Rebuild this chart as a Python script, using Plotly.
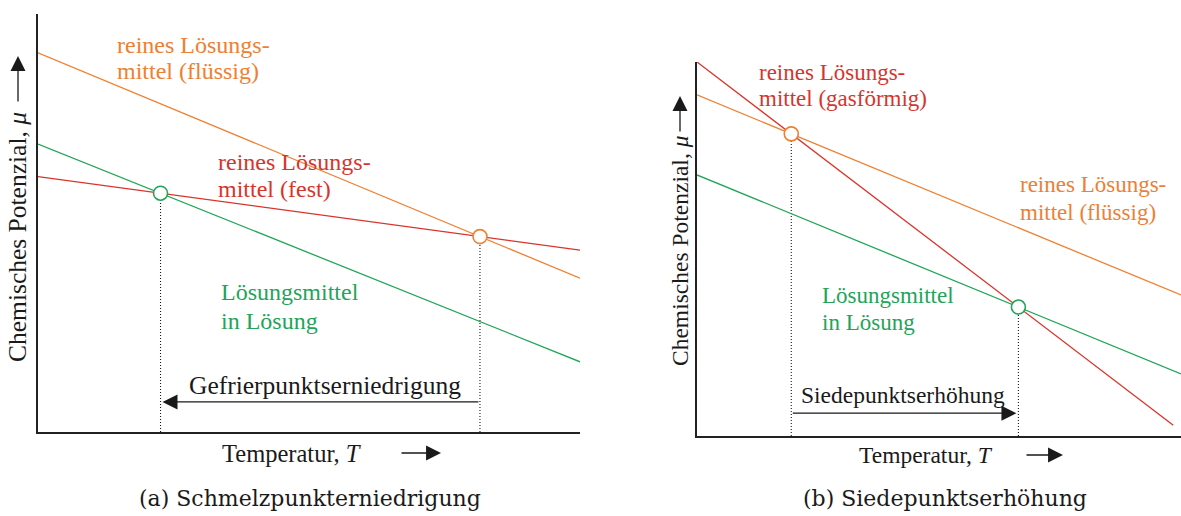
import plotly.graph_objects as go

# ---- Panel (a): freezing point depression -------------------------------
temp_a = [0.0, 10.0]
mu_liquid_a = [9.07, 3.68]      # pure solvent, liquid
mu_solid_a = [6.11, 4.35]       # pure solvent, solid
mu_solution_a = [6.89, 1.68]    # solvent in solution

# ---- Panel (b): boiling point elevation --------------------------------
temp_gas_b = [0.0, 9.84]
mu_gas_b = [10.0, 0.29]         # pure solvent, gaseous
temp_b = [0.0, 10.0]
mu_liquid_b = [9.12, 3.77]      # pure solvent, liquid
mu_solution_b = [6.98, 1.66]    # solvent in solution

# heights (in potential units) of the dimension arrows
arrow_level_a = 0.72
arrow_level_b = 0.61

ORANGE = "#EE8033"
RED = "#D8342C"
GREEN = "#22A459"
INK = "#1a1a1a"
SERIF = "Liberation Serif"
CAPTION_FONT = "DejaVu Serif"

W, H = 1181, 516


def crossing(xa, ya, xb, yb):
    """Intersection of two straight lines given by their end points."""
    ma = (ya[1] - ya[0]) / (xa[1] - xa[0])
    ca = ya[0] - ma * xa[0]
    mb = (yb[1] - yb[0]) / (xb[1] - xb[0])
    cb = yb[0] - mb * xb[0]
    t = (cb - ca) / (ma - mb)
    return t, ma * t + ca


def px(x):
    return x / W


def py(y):
    return 1 - y / H


freeze_sol = crossing(temp_a, mu_solution_a, temp_a, mu_solid_a)
freeze_pure = crossing(temp_a, mu_liquid_a, temp_a, mu_solid_a)
boil_pure = crossing(temp_b, mu_liquid_b, temp_gas_b, mu_gas_b)
boil_sol = crossing(temp_b, mu_solution_b, temp_gas_b, mu_gas_b)

fig = go.Figure()

line_w = 1.3


def add_line(x, y, color, xa, ya):
    fig.add_trace(go.Scatter(x=x, y=y, mode="lines", xaxis=xa, yaxis=ya,
                             line=dict(color=color, width=line_w),
                             hoverinfo="skip", showlegend=False))


def add_drop(pt, xa, ya):
    fig.add_trace(go.Scatter(x=[pt[0], pt[0]], y=[0, pt[1]], mode="lines",
                             xaxis=xa, yaxis=ya,
                             line=dict(color=INK, width=1.1, dash="1px,2px"),
                             hoverinfo="skip", showlegend=False))


def add_marker(pt, color, xa, ya):
    fig.add_trace(go.Scatter(x=[pt[0]], y=[pt[1]], mode="markers",
                             xaxis=xa, yaxis=ya,
                             marker=dict(size=14, color="white",
                                         line=dict(color=color, width=1.6)),
                             hoverinfo="skip", showlegend=False))


# panel (a)
add_drop(freeze_sol, "x", "y")
add_drop(freeze_pure, "x", "y")
add_line(temp_a, mu_liquid_a, ORANGE, "x", "y")
add_line(temp_a, mu_solid_a, RED, "x", "y")
add_line(temp_a, mu_solution_a, GREEN, "x", "y")
add_marker(freeze_sol, GREEN, "x", "y")
add_marker(freeze_pure, ORANGE, "x", "y")

# panel (b)
add_drop(boil_pure, "x2", "y2")
add_drop(boil_sol, "x2", "y2")
add_line(temp_b, mu_liquid_b, ORANGE, "x2", "y2")
add_line(temp_gas_b, mu_gas_b, RED, "x2", "y2")
add_line(temp_b, mu_solution_b, GREEN, "x2", "y2")
add_marker(boil_pure, ORANGE, "x2", "y2")
add_marker(boil_sol, GREEN, "x2", "y2")

ann = []

HEAD = dict(arrowhead=2, arrowsize=2.3, arrowwidth=1.3, arrowcolor=INK)


def text(x, y, s, color=INK, size=24, xanchor="left", family=SERIF, angle=0):
    ann.append(dict(x=px(x), y=py(y), xref="paper", yref="paper", text=s,
                    showarrow=False, xanchor=xanchor, yanchor="middle",
                    textangle=angle,
                    font=dict(family=family, size=size, color=color)))


def paper_arrow(x, y, dx, dy):
    ann.append(dict(x=px(x), y=py(y), xref="paper", yref="paper", text="",
                    showarrow=True, ax=dx, ay=dy, axref="pixel", ayref="pixel",
                    standoff=0, startstandoff=0, **HEAD))


# curve labels, panel (a)
text(115, 45, "reines Lösungs-", ORANGE)
text(115, 71, "mittel (flüssig)", ORANGE)
text(216, 162, "reines Lösungs-", RED)
text(216, 189, "mittel (fest)", RED)
text(219, 292, "Lösungsmittel", GREEN)
text(219, 321, "in Lösung", GREEN)

# curve labels, panel (b)
text(757, 72, "reines Lösungs-", RED, size=23)
text(757, 98, "mittel (gasförmig)", RED, size=23)
text(1018, 185, "reines Lösungs-", ORANGE, size=23)
text(1018, 212, "mittel (flüssig)", ORANGE, size=23)
text(820, 295, "Lösungsmittel", GREEN, size=23)
text(820, 322, "in Lösung", GREEN, size=23)

# dimension arrows between the crossing temperatures
ann.append(dict(x=freeze_sol[0], y=arrow_level_a, ax=freeze_pure[0], ay=arrow_level_a,
                xref="x", yref="y", axref="x", ayref="y", text="", showarrow=True,
                standoff=2, startstandoff=0, **HEAD))
text(325, 385, "Gefrierpunktserniedrigung", size=25.5, xanchor="center")

ann.append(dict(x=boil_sol[0], y=arrow_level_b, ax=boil_pure[0], ay=arrow_level_b,
                xref="x2", yref="y2", axref="x2", ayref="y2", text="", showarrow=True,
                standoff=2, startstandoff=0, **HEAD))
text(903, 395, "Siedepunktserhöhung", size=23.5, xanchor="center")

# axis titles with their arrows
text(292, 453, "Temperatur, <i>T</i>", size=24.5, xanchor="center")
paper_arrow(441, 453, -41, 0)
text(926, 455, "Temperatur, <i>T</i>", size=23.5, xanchor="center")
paper_arrow(1063, 455, -38, 0)

text(18, 237, "Chemisches Potenzial, <i>μ</i>", size=25.5, xanchor="center", angle=-90)
paper_arrow(18, 56, 0, 47)
text(680, 251, "Chemisches Potenzial, <i>μ</i>", size=23.5, xanchor="center", angle=-90)
paper_arrow(680, 96, 0, 37)

# sub-captions
text(310, 498, "(a) Schmelzpunkterniedrigung", size=22, xanchor="center", family=CAPTION_FONT)
text(945, 498, "(b) Siedepunktserhöhung", size=22, xanchor="center", family=CAPTION_FONT)

axis_common = dict(showgrid=False, zeroline=False, showticklabels=False, ticks="",
                   showline=True, linecolor="#222222", linewidth=1.6, fixedrange=True)

fig.update_layout(
    width=W, height=H,
    margin=dict(l=0, r=0, t=0, b=0),
    paper_bgcolor="white", plot_bgcolor="white",
    showlegend=False,
    xaxis=dict(domain=[px(38), px(580)], range=[0, 10], anchor="y", **axis_common),
    yaxis=dict(domain=[py(432), py(14)], range=[0, 10], anchor="x", **axis_common),
    xaxis2=dict(domain=[px(697), 1.0], range=[0, 10], anchor="y2", **axis_common),
    yaxis2=dict(domain=[py(436), py(62)], range=[0, 10], anchor="x2", **axis_common),
    annotations=ann,
)

fig.write_html("out.html", config={"displayModeBar": False})
